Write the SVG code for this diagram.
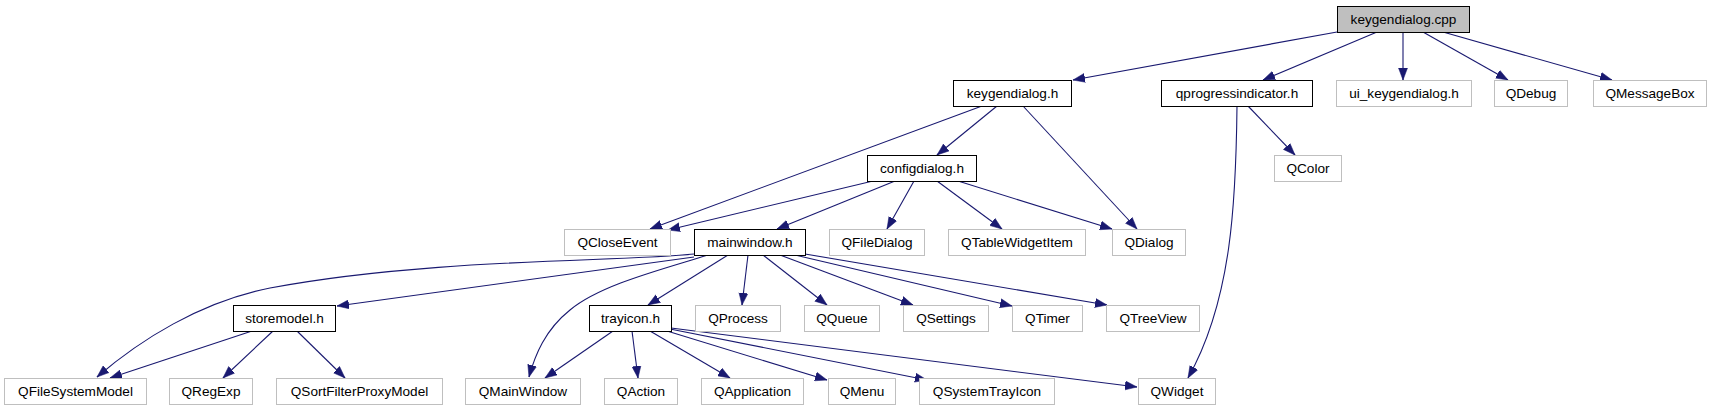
<svg xmlns="http://www.w3.org/2000/svg" width="1713" height="411" viewBox="0 0 1713 411">
<style>
  .bg { fill: #ffffff; }
  .node rect { fill: #ffffff; stroke-width: 1; }
  .doc rect { stroke: #000000; }
  .ext rect { stroke: #bfbfbf; }
  .root rect { fill: #bfbfbf; stroke: #000000; }
  .node text { font-family: "Liberation Sans", Arial, sans-serif; font-size: 13.6px; fill: #000000; text-anchor: middle; }
  .edges path { fill: none; stroke: #191970; stroke-width: 1.1; marker-end: url(#arrow); }
</style>
<defs>
  <marker id="arrow" markerUnits="userSpaceOnUse" markerWidth="13" markerHeight="10" refX="12" refY="5" orient="auto">
    <path d="M0,0.5 L12,5 L0,9.5 z" fill="#191970" stroke="#191970" stroke-width="0.5"/>
  </marker>
</defs>
<rect class="bg" x="0" y="0" width="1713" height="411"/>

<g id="edges" class="edges">
  <path d="M1337,32 L1073,80"/>
  <path d="M1377,32 L1263,80"/>
  <path d="M1403,32 L1403,80"/>
  <path d="M1423,32 L1508,80"/>
  <path d="M1443,32 L1612,80"/>
  <path d="M997,106 L937,155"/>
  <path d="M982,106 L650,229"/>
  <path d="M1023,106 L1137,229"/>
  <path d="M873,181 L668,230"/>
  <path d="M895,181 L777,229"/>
  <path d="M914,181 L887,229"/>
  <path d="M937,181 L1002,229"/>
  <path d="M958,181 L1112,229"/>
  <path d="M1248,106 L1295,155"/>
  <path d="M1237,106 C1236,200 1232,300 1188,378"/>
  <path d="M694,254 C620,262 430,258 270,288 C200,302 140,340 97,377"/>
  <path d="M694,257 L337,306"/>
  <path d="M708,255 C660,270 600,285 570,310 C545,330 535,355 529,377"/>
  <path d="M728,255 L648,305"/>
  <path d="M748,255 L742,305"/>
  <path d="M763,255 L827,305"/>
  <path d="M780,255 L913,305"/>
  <path d="M795,255 L1012,306"/>
  <path d="M805,254 L1107,305"/>
  <path d="M252,331 L110,378"/>
  <path d="M273,331 L223,378"/>
  <path d="M297,331 L345,378"/>
  <path d="M613,331 L545,378"/>
  <path d="M632,331 L638,378"/>
  <path d="M650,331 L730,378"/>
  <path d="M667,331 L827,380"/>
  <path d="M670,329 L927,380"/>
  <path d="M671,328 L1137,387"/>
</g>

<g id="n_keygendialog_cpp" class="node root"><rect x="1337.5" y="6.5" width="132" height="26"/><text x="1403.5" y="24">keygendialog.cpp</text></g>

<g id="n_keygendialog_h" class="node doc"><rect x="953.5" y="80.5" width="118" height="26"/><text x="1012.5" y="98">keygendialog.h</text></g>
<g id="n_qprogressindicator_h" class="node doc"><rect x="1161.5" y="80.5" width="151" height="26"/><text x="1237" y="98">qprogressindicator.h</text></g>
<g id="n_ui_keygendialog_h" class="node ext"><rect x="1336.5" y="80.5" width="135" height="26"/><text x="1404" y="98">ui_keygendialog.h</text></g>
<g id="n_QDebug" class="node ext"><rect x="1494.5" y="80.5" width="73" height="26"/><text x="1531" y="98">QDebug</text></g>
<g id="n_QMessageBox" class="node ext"><rect x="1593.5" y="80.5" width="113" height="26"/><text x="1650" y="98">QMessageBox</text></g>

<g id="n_configdialog_h" class="node doc"><rect x="867.5" y="155.5" width="109" height="26"/><text x="922" y="173">configdialog.h</text></g>
<g id="n_QColor" class="node ext"><rect x="1274.5" y="155.5" width="67" height="26"/><text x="1308" y="173">QColor</text></g>

<g id="n_QCloseEvent" class="node ext"><rect x="564.5" y="229.5" width="106" height="26"/><text x="617.5" y="247">QCloseEvent</text></g>
<g id="n_mainwindow_h" class="node doc"><rect x="694.5" y="229.5" width="111" height="26"/><text x="750" y="247">mainwindow.h</text></g>
<g id="n_QFileDialog" class="node ext"><rect x="829.5" y="229.5" width="95" height="26"/><text x="877" y="247">QFileDialog</text></g>
<g id="n_QTableWidgetItem" class="node ext"><rect x="948.5" y="229.5" width="137" height="26"/><text x="1017" y="247">QTableWidgetItem</text></g>
<g id="n_QDialog" class="node ext"><rect x="1112.5" y="229.5" width="73" height="26"/><text x="1149" y="247">QDialog</text></g>

<g id="n_storemodel_h" class="node doc"><rect x="233.5" y="305.5" width="102" height="26"/><text x="284.5" y="323">storemodel.h</text></g>
<g id="n_trayicon_h" class="node doc"><rect x="589.5" y="305.5" width="82" height="26"/><text x="630.5" y="323">trayicon.h</text></g>
<g id="n_QProcess" class="node ext"><rect x="695.5" y="305.5" width="85" height="26"/><text x="738" y="323">QProcess</text></g>
<g id="n_QQueue" class="node ext"><rect x="804.5" y="305.5" width="75" height="26"/><text x="842" y="323">QQueue</text></g>
<g id="n_QSettings" class="node ext"><rect x="903.5" y="305.5" width="85" height="26"/><text x="946" y="323">QSettings</text></g>
<g id="n_QTimer" class="node ext"><rect x="1012.5" y="305.5" width="70" height="26"/><text x="1047.5" y="323">QTimer</text></g>
<g id="n_QTreeView" class="node ext"><rect x="1106.5" y="305.5" width="93" height="26"/><text x="1153" y="323">QTreeView</text></g>

<g id="n_QFileSystemModel" class="node ext"><rect x="4.5" y="378.5" width="142" height="26"/><text x="75.5" y="396">QFileSystemModel</text></g>
<g id="n_QRegExp" class="node ext"><rect x="169.5" y="378.5" width="83" height="26"/><text x="211" y="396">QRegExp</text></g>
<g id="n_QSortFilterProxyModel" class="node ext"><rect x="276.5" y="378.5" width="166" height="26"/><text x="359.5" y="396">QSortFilterProxyModel</text></g>
<g id="n_QMainWindow" class="node ext"><rect x="465.5" y="378.5" width="115" height="26"/><text x="523" y="396">QMainWindow</text></g>
<g id="n_QAction" class="node ext"><rect x="604.5" y="378.5" width="73" height="26"/><text x="641" y="396">QAction</text></g>
<g id="n_QApplication" class="node ext"><rect x="701.5" y="378.5" width="102" height="26"/><text x="752.5" y="396">QApplication</text></g>
<g id="n_QMenu" class="node ext"><rect x="828.5" y="378.5" width="67" height="26"/><text x="862" y="396">QMenu</text></g>
<g id="n_QSystemTrayIcon" class="node ext"><rect x="919.5" y="378.5" width="135" height="26"/><text x="987" y="396">QSystemTrayIcon</text></g>
<g id="n_QWidget" class="node ext"><rect x="1138.5" y="378.5" width="77" height="26"/><text x="1177" y="396">QWidget</text></g>
</svg>
